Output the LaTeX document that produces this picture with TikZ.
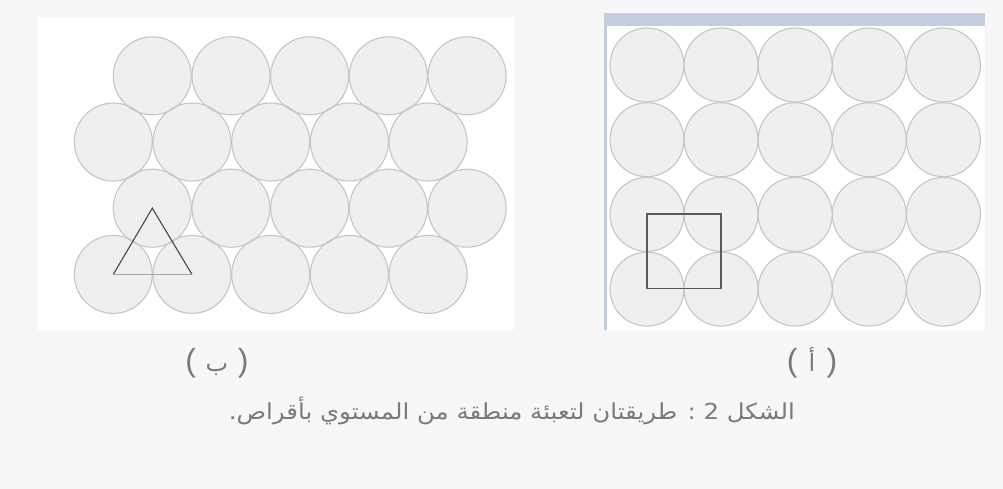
\documentclass[tikz,border=0pt]{standalone}
\usepackage{fontspec}
\TeXXeTstate=1
\newfontfamily\arabicfont[Script=Arabic]{DejaVu Sans}
\newfontfamily\latinfont{Liberation Sans}
\definecolor{bgc}{HTML}{F7F7F7}
\definecolor{discfill}{HTML}{EFEFEF}
\definecolor{discline}{HTML}{C6C6C6}
\definecolor{barblue}{HTML}{C5CEDE}
\definecolor{txtgray}{HTML}{7A7A7A}
\tikzset{
  discfill/.style={fill=discfill, draw=none},
  discedge/.style={draw=discline, line width=1.1pt},
  frameline/.style={draw=black!65, line width=1.3pt},
  lbl/.style={inner sep=0pt, text=txtgray, font=\fontsize{32}{36}\selectfont},
  caption/.style={inner sep=0pt, text=txtgray, font=\arabicfont\fontsize{22}{26}\selectfont}
}
\begin{document}
\begin{tikzpicture}[x=1pt,y=-1pt]
\useasboundingbox (0,0) rectangle (1003,489);
\fill[bgc] (0,0) rectangle (1003,489);
% panel b
\fill[white] (37,17) rectangle (514,330);
% panel a
\fill[barblue] (604,12.7) rectangle (985,26);
\fill[barblue] (604,26) rectangle (607,330);
\fill[white] (607,26) rectangle (985,330);
% discs panel a
\foreach \i in {0,...,4}{\foreach \j in {0,...,3}{
  \fill[discfill] ({647+74.1*\i},{65+74.7*\j}) circle (37);}}
\foreach \i in {0,...,4}{\foreach \j in {0,...,3}{
  \draw[discedge] ({647+74.1*\i},{65+74.7*\j}) circle (37);}}
% discs panel b
\foreach \i in {0,...,4}{\foreach \j/\x in {0/152.3,1/113.3,2/152.3,3/113.3}{
  \fill[discfill] ({\x+78.7*\i},{75.8+66.2*\j}) circle (39);}}
\foreach \i in {0,...,4}{\foreach \j/\x in {0/152.3,1/113.3,2/152.3,3/113.3}{
  \draw[discedge] ({\x+78.7*\i},{75.8+66.2*\j}) circle (39);}}
% square
\coordinate (sq1) at (647,214);
\coordinate (sq2) at (721.1,288.7);
\draw[frameline] (sq1) rectangle (sq2);
% triangle
\coordinate (ta) at (152.3,208.2);
\coordinate (tb) at (113.3,274.4);
\coordinate (tc) at (192,274.4);
\draw[draw=black!72, line width=1.1pt] (tb) -- (ta) -- (tc);
\draw[draw=black!35, line width=1.8pt] (tb) -- (tc);
% labels
\node[lbl] (lb) at (217,363) {{\latinfont(}\hspace{0.3em}{\arabicfont\fontsize{24}{28}\selectfont ب}\hspace{0.3em}{\latinfont)}};
\node[lbl] (la) at (812,363) {{\latinfont(}\hspace{0.35em}{\arabicfont\fontsize{24}{28}\selectfont أ}\hspace{0.35em}{\latinfont)}};
\node[caption, anchor=east] (cap) at (795,411) {\scalebox{1.11}[1]{\beginR الشكل 2 : طريقتان لتعبئة منطقة من المستوي بأقراص.\endR}};
\end{tikzpicture}
\end{document}
